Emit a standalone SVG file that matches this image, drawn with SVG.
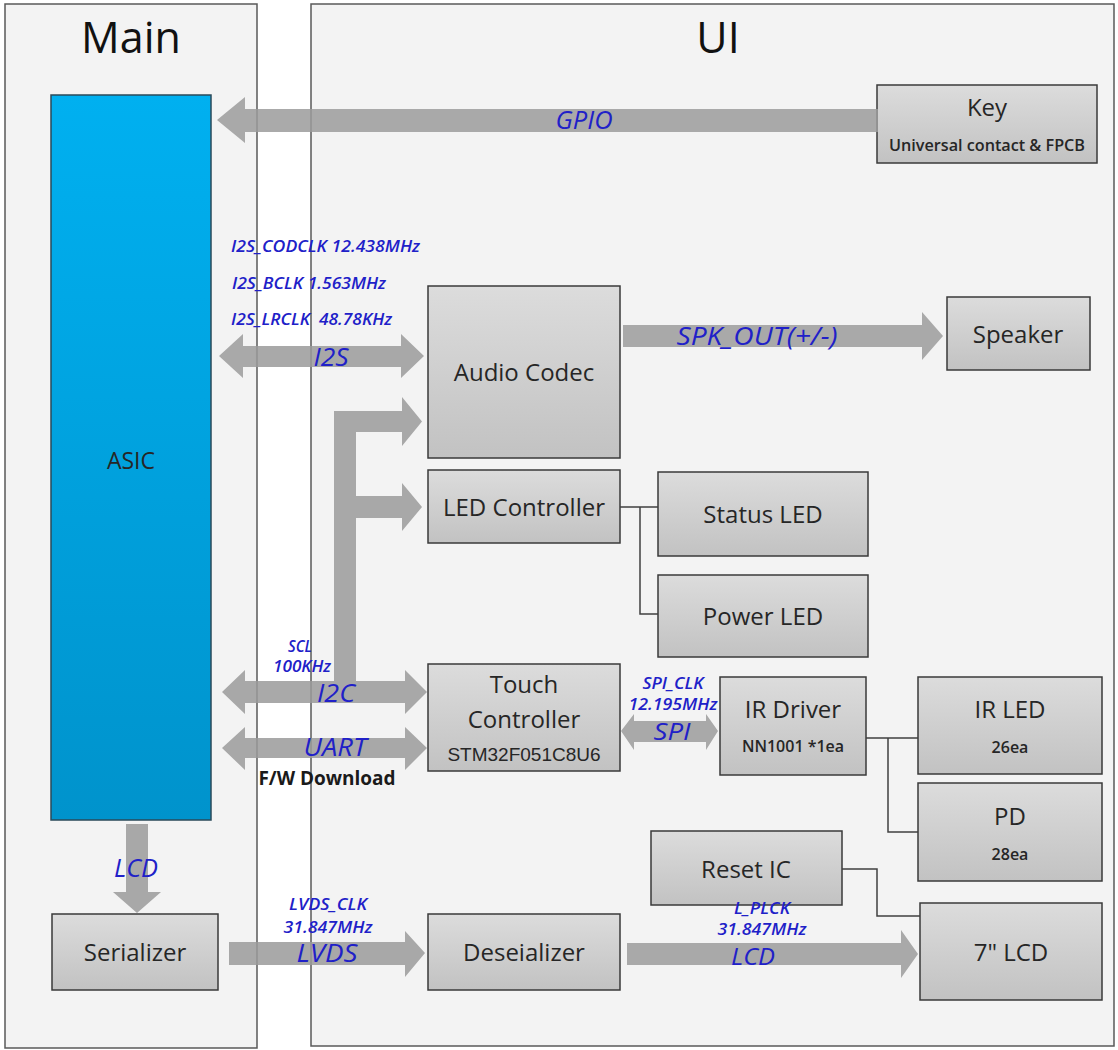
<svg xmlns="http://www.w3.org/2000/svg" width="1118" height="1050" viewBox="0 0 1118 1050">
<defs>
<linearGradient id="boxg" x1="0" y1="0" x2="0" y2="1">
<stop offset="0" stop-color="#dcdcdc"/><stop offset="1" stop-color="#c2c2c2"/>
</linearGradient>
<linearGradient id="asicg" x1="0" y1="0" x2="0" y2="1">
<stop offset="0" stop-color="#00b0f0"/><stop offset="1" stop-color="#0093cc"/>
</linearGradient>
<style>
.panel{fill:#f3f3f3;stroke:#595959;stroke-width:1.5}
.box{fill:url(#boxg);stroke:#3a3a3a;stroke-width:1.5}
.t{font-family:"Open Sans","Liberation Sans",sans-serif;fill:#262626;text-anchor:middle}
.big{font-size:24px}
.sm{font-size:16px;font-weight:600}
.title{font-family:"Open Sans","Liberation Sans",sans-serif;font-size:43px;fill:#111;text-anchor:middle}
.lbl{font-family:"Open Sans","Liberation Sans",sans-serif;font-style:italic;fill:#2020c8;text-anchor:middle}
.l24{font-size:25px}
.l14{font-size:16px;font-weight:600}
.arr{fill:#9b9b9b}
.wire{fill:none;stroke:#404040;stroke-width:1.5}
</style>
</defs>
<rect width="1118" height="1050" fill="#ffffff"/>
<g id="panel-main"><rect class="panel" x="5" y="4" width="252" height="1044"/><text class="title" x="131" y="53">Main</text></g>
<g id="panel-ui"><rect class="panel" x="311" y="4" width="803" height="1042"/><text class="title" x="718" y="53">UI</text></g>

<g id="asic"><rect x="51" y="95" width="160" height="725" fill="url(#asicg)" stroke="#2a4a5a" stroke-width="1.5"/><text class="t" x="131" y="469" style="font-size:23px">ASIC</text></g>
<g id="key"><rect class="box" x="877" y="85" width="220" height="78"/><text class="t big" x="987" y="116">Key</text><text class="t sm" x="987" y="151" textLength="196" lengthAdjust="spacingAndGlyphs">Universal contact &amp; FPCB</text></g>
<g id="audio-codec"><rect class="box" x="428" y="286" width="192" height="172"/><text class="t big" x="524" y="381">Audio Codec</text></g>
<g id="speaker"><rect class="box" x="947" y="297" width="143" height="73"/><text class="t big" x="1018" y="343">Speaker</text></g>
<g id="led-controller"><rect class="box" x="428" y="470" width="192" height="73"/><text class="t big" x="524" y="516">LED Controller</text></g>
<g id="status-led"><rect class="box" x="658" y="472" width="210" height="84"/><text class="t big" x="763" y="523">Status LED</text></g>
<g id="power-led"><rect class="box" x="658" y="575" width="210" height="82"/><text class="t big" x="763" y="625">Power LED</text></g>
<g id="touch-controller"><rect class="box" x="428" y="664" width="192" height="107"/><text class="t big" x="524" y="693">Touch</text><text class="t big" x="524" y="728">Controller</text><text class="t" x="524" y="761" style="font-family:'Liberation Sans',sans-serif;font-size:19px">STM32F051C8U6</text></g>
<g id="ir-driver"><rect class="box" x="720" y="677" width="146" height="98"/><text class="t big" x="793" y="718">IR Driver</text><text class="t sm" x="793" y="752">NN1001 *1ea</text></g>
<g id="ir-led"><rect class="box" x="918" y="677" width="184" height="97"/><text class="t big" x="1010" y="718">IR LED</text><text class="t sm" x="1010" y="753">26ea</text></g>
<g id="pd"><rect class="box" x="918" y="783" width="184" height="98"/><text class="t big" x="1010" y="825">PD</text><text class="t sm" x="1010" y="860">28ea</text></g>
<g id="reset-ic"><rect class="box" x="651" y="831" width="191" height="74"/><text class="t big" x="746" y="878">Reset IC</text></g>
<g id="lcd7"><rect class="box" x="920" y="903" width="182" height="97"/><text class="t big" x="1011" y="961">7" LCD</text></g>
<g id="deserializer"><rect class="box" x="428" y="914" width="192" height="76"/><text class="t big" x="524" y="961">Deseializer</text></g>
<g id="serializer"><rect class="box" x="52" y="914" width="166" height="76"/><text class="t big" x="135" y="961">Serializer</text></g>

<g id="connectors">
<g opacity="0.85">
<polygon class="arr" points="217,120 245,97 245,109 878,109 878,132 245,132 245,143"/>
<polygon class="arr" points="219,356 243,334 243,346 401,346 401,334 424,356 401,378 401,367 243,367 243,378"/>
<polygon class="arr" points="623,325 922,325 922,312 943,336 922,360 922,347 623,347"/>
<polygon class="arr" points="334,700 334,411 402,411 402,397 422,421.5 402,446 402,432 356,432 356,496 402,496 402,483 422,507 402,531 402,518 356,518 356,700"/>
<polygon class="arr" points="222,692 245,670 245,681 405,681 405,670 427,692 405,714 405,703 245,703 245,714"/>
<polygon class="arr" points="222,748 245,727 245,738 405,738 405,727 427,748 405,770 405,758 245,758 245,770"/>
<polygon class="arr" points="621,731 634,714 634,721 706,721 706,714 718,731 706,750 706,742 634,742 634,750"/>
<polygon class="arr" points="126,824 148,824 148,892 161,892 137,913 113,892 126,892"/>
<polygon class="arr" points="229,942 405,942 405,931 425,953 405,977 405,965 229,965"/>
<polygon class="arr" points="627,943 901,943 901,930 918,954 901,978 901,965 627,965"/>
</g>
<path class="wire" d="M620,507 H658 M640,507 V614 H658"/>
<path class="wire" d="M866,738 H918 M888,738 V832 H918"/>
<path class="wire" d="M842,869 H877 V916 H920"/>
<text class="lbl l24" x="584" y="129" textLength="57" lengthAdjust="spacingAndGlyphs">GPIO</text>
<text class="lbl l14" x="231" y="252" style="text-anchor:start" textLength="189" lengthAdjust="spacingAndGlyphs">I2S_CODCLK 12.438MHz</text>
<text class="lbl l14" x="232" y="289" style="text-anchor:start" textLength="154" lengthAdjust="spacingAndGlyphs">I2S_BCLK 1.563MHz</text>
<text class="lbl l14" x="231" y="325" style="text-anchor:start" textLength="161" lengthAdjust="spacingAndGlyphs" xml:space="preserve">I2S_LRCLK  48.78KHz</text>
<text class="lbl l24" x="331" y="366" textLength="35" lengthAdjust="spacingAndGlyphs">I2S</text>
<text class="lbl l24" x="757" y="345" textLength="161" lengthAdjust="spacingAndGlyphs">SPK_OUT(+/-)</text>
<text class="lbl l14" x="300" y="652" textLength="24" lengthAdjust="spacingAndGlyphs">SCL</text>
<text class="lbl l14" x="302" y="672" textLength="58" lengthAdjust="spacingAndGlyphs">100KHz</text>
<text class="lbl l24" x="336" y="702" textLength="38" lengthAdjust="spacingAndGlyphs">I2C</text>
<text class="lbl l24" x="335" y="756" textLength="63" lengthAdjust="spacingAndGlyphs">UART</text>
<text class="t" x="327" y="785" style="font-size:19px;font-weight:700;fill:#1a1a1a">F/W Download</text>
<text class="lbl l14" x="673" y="689" textLength="61" lengthAdjust="spacingAndGlyphs">SPI_CLK</text>
<text class="lbl l14" x="673" y="710" textLength="89" lengthAdjust="spacingAndGlyphs">12.195MHz</text>
<text class="lbl" x="672" y="740" style="font-size:23px" textLength="37" lengthAdjust="spacingAndGlyphs">SPI</text>
<text class="lbl l24" x="136" y="877" textLength="44" lengthAdjust="spacingAndGlyphs">LCD</text>
<text class="lbl l14" x="328" y="910" textLength="78" lengthAdjust="spacingAndGlyphs">LVDS_CLK</text>
<text class="lbl l14" x="328" y="933" textLength="89" lengthAdjust="spacingAndGlyphs">31.847MHz</text>
<text class="lbl l24" x="327" y="962" textLength="61" lengthAdjust="spacingAndGlyphs">LVDS</text>
<text class="lbl l14" x="762" y="914" textLength="56" lengthAdjust="spacingAndGlyphs">L_PLCK</text>
<text class="lbl l14" x="762" y="935" textLength="89" lengthAdjust="spacingAndGlyphs">31.847MHz</text>
<text class="lbl" x="753" y="965" style="font-size:23px" textLength="44" lengthAdjust="spacingAndGlyphs">LCD</text>
</g>
</svg>
